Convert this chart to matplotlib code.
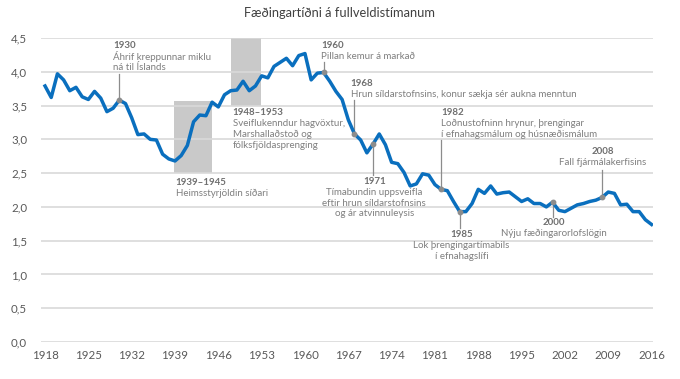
import matplotlib
matplotlib.use("Agg")
import matplotlib.pyplot as plt
import numpy as np

plt.rcParams['font.family'] = ['Lato', 'DejaVu Sans']

years = list(range(1918, 2017))
tfr = [3.79, 3.62, 3.97, 3.88, 3.72, 3.77, 3.63, 3.59, 3.71, 3.61,
       3.41, 3.46, 3.58, 3.53, 3.32, 3.07, 3.08, 3.00, 2.99, 2.78,
       2.71, 2.68, 2.76, 2.91, 3.26, 3.36, 3.35, 3.55, 3.48, 3.66,
       3.72, 3.73, 3.86, 3.72, 3.79, 3.94, 3.91, 4.08, 4.14, 4.20,
       4.09, 4.24, 4.27, 3.88, 3.98, 3.99, 3.86, 3.71, 3.59, 3.29,
       3.08, 2.99, 2.80, 2.93, 3.08, 2.92, 2.66, 2.64, 2.51, 2.31,
       2.34, 2.49, 2.47, 2.33, 2.26, 2.24, 2.08, 1.93, 1.93, 2.05,
       2.26, 2.20, 2.31, 2.19, 2.21, 2.22, 2.15, 2.08, 2.12, 2.05,
       2.05, 2.00, 2.07, 1.95, 1.93, 1.98, 2.03, 2.05, 2.08, 2.10,
       2.14, 2.22, 2.20, 2.03, 2.04, 1.93, 1.93, 1.81, 1.74]

xticks = list(range(1918, 2017, 7))
yticks = [0, 0.5, 1.0, 1.5, 2.0, 2.5, 3.0, 3.5, 4.0, 4.5]

# shaded periods: (start, end, ymin, ymax)
periods = [(1938.8, 1945.0, 2.5, 3.57), (1948.1, 1952.9, 3.5, 4.5)]

blue = '#0a6fbe'
grey_line = '#8c8c8c'
txt_grey = '#7f7f7f'
yr_grey = '#6f6f6f'

fig = plt.figure(figsize=(6.8, 3.79), dpi=100)
ax = fig.add_axes([0.0603, 0.0976, 0.8997, 0.8021])

for x0, x1, y0, y1 in periods:
    ax.fill_between([x0, x1], y0, y1, color='#c9c9c9', lw=0, zorder=1)

ax.plot(years, tfr, color=blue, lw=2.5, zorder=3, solid_joinstyle='round')

ax.set_xlim(1917.35, 2016.2)
ax.set_ylim(0, 4.5)
ax.set_xticks(xticks)
ax.set_yticks(yticks)
ax.set_yticklabels([f"{v:.1f}".replace('.', ',') for v in yticks])
ax.tick_params(length=0, labelsize=8.3, colors='#595959')
ax.tick_params(axis='y', pad=10)
ax.tick_params(axis='x', pad=6)
ax.grid(axis='y', color='#d9d9d9', lw=1.2, zorder=0)
for s in ax.spines.values():
    s.set_visible(False)

fig.text(0.5, 0.966, 'Fæðingartíðni á fullveldistímanum', ha='center', va='center',
         fontsize=9.3, color='#404040')

step = 0.158
fs = 7.0

def note(x, y, year, lines, ha='left'):
    ax.text(x, y, year, ha=ha, va='center', fontsize=fs, fontweight='bold', color=yr_grey, zorder=4)
    for i, line in enumerate(lines):
        ax.text(x, y - step * (i + 1), line, ha=ha, va='center', fontsize=fs, color=txt_grey, zorder=4)

def marker(yr, y_end):
    yv = tfr[years.index(yr)]
    ax.plot([yr, yr], [yv, y_end], color=grey_line, lw=0.9, zorder=2)
    ax.plot([yr], [yv], 'o', ms=3.2, color=grey_line, zorder=4)

marker(1930, 3.97)
note(1929.0, 4.385, '1930', ['Áhrif kreppunnar miklu', 'ná til Íslands'])

note(1939.1, 2.356, '1939–1945', ['Heimsstyrjöldin síðari'])
note(1948.3, 3.39, '1948–1953', ['Sveiflukenndur hagvöxtur,', 'Marshallaðstoð og', 'fólksfjöldasprenging'])

marker(1963, 4.15)
note(1962.6, 4.385, '1960', ['Pillan kemur á markað'])

marker(1968, 3.585)
note(1967.4, 3.82, '1968', ['Hrun síldarstofnsins, konur sækja sér aukna menntun'])

marker(1971, 2.47)
note(1971.2, 2.37, '1971', ['Tímabundin uppsveifla', 'eftir hrun síldarstofnsins', 'og ár atvinnuleysis'], ha='center')

marker(1982, 2.99)
note(1982.0, 3.39, '1982', ['Loðnustofninn hrynur, þrengingar', 'í efnahagsmálum og húsnæðismálum'])

marker(1985, 1.69)
note(1985.3, 1.585, '1985', ['Lok þrengingartímabils', 'í efnahagslífi'], ha='center')

marker(2000, 1.85)
note(2000.2, 1.763, '2000', ['Nýju fæðingarorlofslögin'], ha='center')

marker(2008, 2.55)
note(2008.1, 2.815, '2008', ['Fall fjármálakerfisins'], ha='center')

fig.savefig('out.png', dpi=100)
